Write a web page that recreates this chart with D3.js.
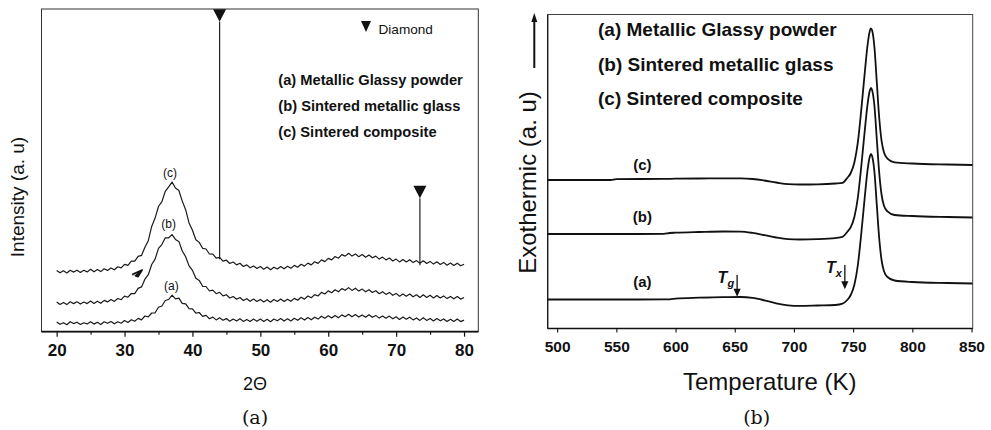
<!DOCTYPE html>
<html><head><meta charset="utf-8">
<script src="https://cdn.jsdelivr.net/npm/d3@7"></script>
<style>
body{margin:0;background:#fff}
svg{display:block}
text{font-family:"Liberation Sans",Arial,Helvetica,sans-serif;fill:#111}
</style>
</head><body>
<svg id="chart" width="991" height="430"></svg>
<script>
// ---------------- Panel (a): XRD ----------------
const xrdStart = 20, xrdStep = 0.5;
const xrdTicks = [20, 30, 40, 50, 60, 70, 80];
const xrdMinorTicks = [25, 35, 45, 55, 65, 75];
const xrdA = [9.6,7.4,9.0,7.0,10.0,8.1,9.4,7.2,8.9,7.8,10.0,7.6,9.4,7.3,9.9,8.4,10.3,7.9,10.0,8.5,
  11.1,9.2,12.0,10.5,13.3,11.8,15.7,14.9,18.7,18.9,24.4,25.7,31.2,32.2,36.5,32.8,33.5,28.4,27.9,23.1,
  22.8,18.5,19.2,15.4,16.3,13.0,14.6,11.8,13.9,11.5,13.1,10.5,12.7,10.7,13.0,10.3,12.3,10.1,12.6,10.4,
  12.6,10.2,12.4,10.0,12.7,10.9,13.1,10.6,12.9,10.7,13.4,11.4,13.9,11.6,14.1,11.9,14.5,12.6,15.5,13.5,
  15.9,13.7,16.3,14.0,16.8,15.0,17.4,14.9,17.2,14.6,16.8,14.5,16.9,14.4,16.3,13.6,15.8,13.5,15.6,12.9,
  14.9,12.3,14.7,12.5,14.5,11.8,13.8,11.3,14.0,11.3,13.3,10.8,13.2,10.9,12.8,10.2,12.4,10.2,12.6,10.1,11.6];
const xrdB = [29.6,27.3,29.3,27.1,29.9,28.1,29.9,27.6,29.7,28.1,30.7,28.2,30.5,28.4,31.3,29.8,32.3,30.3,33.2,32.0,
  35.6,34.5,38.2,38.1,43.3,44.8,52.5,57.0,67.2,72.6,83.3,87.1,93.9,93.9,97.1,92.3,90.3,80.7,75.0,65.8,
  61.4,53.5,51.3,45.4,45.2,40.7,41.6,38.0,39.4,35.8,37.0,33.7,35.2,32.5,34.2,31.2,33.0,30.4,32.6,30.2,
  32.3,29.8,32.0,29.5,32.1,30.2,32.6,30.1,32.5,30.4,33.3,31.5,34.4,32.6,35.7,33.9,37.1,35.7,39.3,37.7,
  40.8,39.0,42.0,39.9,43.1,41.4,44.1,41.3,43.5,40.6,42.6,39.9,42.0,39.2,41.0,38.0,40.0,37.3,39.3,36.4,
  38.3,35.5,37.8,35.5,37.7,34.9,36.9,34.3,36.9,34.3,36.4,33.8,36.2,33.7,35.8,33.1,35.3,32.9,35.2,32.6,34.2];
const xrdC = [61.3,58.9,61.0,58.7,61.4,59.6,61.5,59.2,61.4,59.8,62.4,59.9,62.2,60.1,63.0,61.3,63.8,61.9,64.9,63.8,
  67.4,66.4,70.5,70.6,75.3,76.3,84.5,91.0,105.3,113.6,125.2,130.1,140.4,144.8,149.6,143.7,141.2,130.6,122.0,108.8,
  101.4,92.0,89.3,83.4,82.7,77.7,77.6,73.5,74.4,70.5,71.5,68.2,69.7,66.8,68.4,65.2,66.8,63.9,65.8,63.2,
  65.1,62.5,64.6,62.0,64.5,62.7,65.2,62.9,65.4,63.4,66.3,64.5,67.4,65.6,68.6,66.8,69.9,68.3,71.8,70.1,
  73.3,71.8,75.2,73.5,77.1,75.6,78.4,75.6,77.8,75.0,77.1,74.5,76.7,73.9,75.6,72.6,74.6,71.8,73.7,70.7,
  72.6,69.8,72.2,69.8,72.0,69.1,71.1,68.4,70.9,68.3,70.3,67.6,69.9,67.3,69.3,66.5,68.7,66.2,68.5,65.9,67.5];
const diamondPos = [44, 73.5];
const diamondTop = [310, 133.5];
const xrdLabels = ["(a)", "(b)", "(c)"];
const xrdLabelPos = [[36.9, 41.4], [36.5, 104.1], [36.7, 154.7]];
const legendA = ["(a) Metallic Glassy powder", "(b) Sintered metallic glass", "(c) Sintered composite"];

// ---------------- Panel (b): DSC ----------------
const temps = [492,545,550,590,595,600,620,640,655,665,675,685,695,705,720,735,741,745,748,751,754,757,760,762,764,765,766,768,770,772,774,776,779,785,800,830,851];
const dscA = [29.0,29.0,29.0,29.1,29.2,29.8,30.8,31.4,31.5,30.6,28.2,25.2,23.2,22.6,23.0,23.5,24.8,28.5,33.5,43.5,63.5,96.5,133.5,156.5,171.5,174.5,172.5,156.5,123.5,90.5,68.5,57.5,51.5,48.0,46.5,45.5,45.0];
const dscB = [94.5,94.5,94.5,94.6,95.5,95.8,96.5,97.0,96.9,95.6,93.3,91.0,89.4,89.0,89.3,90.4,91.6,96.5,101.3,111.2,131.0,163.5,200.0,222.5,237.5,240.5,238.5,222.5,189.3,156.2,134.0,123.0,117.1,113.5,112.5,111.5,111.0];
const dscC = [148.5,148.5,149.4,149.6,149.7,149.8,150.0,150.2,150.1,149.5,148.0,146.0,144.3,144.0,144.2,145.0,145.6,150.5,155.5,165.7,186.3,220.1,258.0,281.5,297.1,300.2,298.2,281.1,246.2,211.2,187.8,176.2,169.9,166.1,165.0,164.0,163.5];
const dscTicks = [500, 550, 600, 650, 700, 750, 800, 850];
const dscLabels = ["(a)", "(b)", "(c)"];
const dscLabelPos = [[572, 41.4], [572, 106.4], [572, 158.1]];
const legendB = ["(a) Metallic Glassy powder", "(b) Sintered metallic glass", "(c) Sintered composite"];
const tgT = 652, tgFrom = 53.5, tgTo = 31.8;
const txT = 743, txFrom = 63.5, txTo = 39.2;

const svg = d3.select("#chart");
const ink = "#111";

// ======== Panel (a) ========
const xL = d3.scaleLinear().domain([17.77, 82.1]).range([41.5, 478.3]);
const yL = d3.scaleLinear().domain([0, 322.7]).range([331.7, 9]);
const twoTheta = xrdA.map((_, i) => xrdStart + i * xrdStep);

svg.append("clipPath").attr("id", "clipL").append("rect")
  .attr("x", xL.range()[0]).attr("y", yL.range()[1])
  .attr("width", xL.range()[1] - xL.range()[0]).attr("height", yL.range()[0] - yL.range()[1]);

const gL = svg.append("g");
gL.append("rect").attr("x", xL.range()[0]).attr("y", yL.range()[1])
  .attr("width", xL.range()[1] - xL.range()[0]).attr("height", yL.range()[0] - yL.range()[1])
  .attr("fill", "none").attr("stroke", "#333").attr("stroke-width", 1);
gL.append("line").attr("x1", xL.range()[0]).attr("x2", xL.range()[1])
  .attr("y1", yL.range()[0]).attr("y2", yL.range()[0]).attr("stroke", ink).attr("stroke-width", 1.8);

const lineL = d3.line().x((d, i) => xL(twoTheta[i])).y(d => yL(d));
const curvesL = gL.append("g").attr("clip-path", "url(#clipL)");
[xrdA, xrdB, xrdC].forEach(s => {
  curvesL.append("path").attr("d", lineL(s)).attr("fill", "none")
    .attr("stroke", "#1a1a1a").attr("stroke-width", 1.2).attr("stroke-linejoin", "round");
});

// diamond peaks
diamondPos.forEach((p, i) => {
  const idx = Math.round((p - xrdStart) / xrdStep);
  const x = xL(p), yt = yL(diamondTop[i]);
  curvesL.append("line").attr("x1", x).attr("x2", x).attr("y1", yt)
    .attr("y2", yL(xrdC[idx]) + 2).attr("stroke", "#222").attr("stroke-width", 1.2);
  gL.append("path").attr("d", `M${x - 6.5},${yt - 12.5}L${x + 6.5},${yt - 12.5}L${x},${yt}Z`).attr("fill", ink);
});

// axis
const axL = d3.axisBottom(xL).tickValues(xrdTicks).tickSize(5).tickPadding(7).tickSizeOuter(0);
const gAxL = gL.append("g").attr("transform", `translate(0,${yL.range()[0]})`).call(axL);
gAxL.select(".domain").remove();
gAxL.selectAll("line").attr("stroke", ink).attr("stroke-width", 1.2);
gAxL.selectAll("text").attr("font-size", 17).attr("font-weight", "bold").attr("fill", ink);
const axLm = d3.axisBottom(xL).tickValues(xrdMinorTicks).tickSize(3).tickFormat("");
const gAxLm = gL.append("g").attr("transform", `translate(0,${yL.range()[0]})`).call(axLm);
gAxLm.select(".domain").remove();
gAxLm.selectAll("line").attr("stroke", ink).attr("stroke-width", 1.1);

// curve labels
xrdLabels.forEach((t, i) => {
  gL.append("text").attr("x", xL(xrdLabelPos[i][0])).attr("y", yL(xrdLabelPos[i][1]))
    .attr("text-anchor", "middle").attr("font-size", 12).text(t);
});
// small arrow near (b)
gL.append("path").attr("d", `M${xL(31.1)},${yL(55.7)}L${xL(32.6)},${yL(61.7)}`).attr("stroke", "#bbb").attr("stroke-width", 1.2);
gL.append("path").attr("d", `M${xL(32.6)},${yL(61.7)}L${xL(31.6)},${yL(56.0)}L${xL(32.0)},${yL(55.0)}L${xL(32.6)},${yL(61.7)}L${xL(31.2)},${yL(57.5)}Z`)
  .attr("fill", ink).attr("stroke", ink).attr("stroke-width", 1.5).attr("stroke-linejoin", "round");

// legend (a)
gL.append("path").attr("d", "M361,21L371,21L366,32Z").attr("fill", ink);
gL.append("text").attr("x", 378.5).attr("y", 34).attr("font-size", 13.6).text("Diamond");
legendA.forEach((t, i) => {
  gL.append("text").attr("x", 278.3).attr("y", 85.3 + i * 26).attr("font-size", 14.7)
    .attr("font-weight", "bold").text(t);
});

// titles (a)
svg.append("text").attr("transform", "translate(23.5,197) rotate(-90)").attr("text-anchor", "middle")
  .attr("font-size", 19).text("Intensity (a. u)");
svg.append("text").attr("x", 255).attr("y", 389.5).attr("text-anchor", "middle")
  .attr("font-size", 18).text("2\u0398");
svg.append("text").attr("x", 255).attr("y", 424).attr("text-anchor", "middle")
  .attr("font-size", 19).style("font-family", "'DejaVu Serif','Liberation Serif',serif").text("(a)");

// ======== Panel (b) ========
const xR = d3.scaleLinear().domain([492, 851]).range([547.7, 972.7]);
const yR = d3.scaleLinear().domain([0, 314]).range([328.5, 14.5]);

svg.append("clipPath").attr("id", "clipR").append("rect")
  .attr("x", xR.range()[0]).attr("y", yR.range()[1])
  .attr("width", xR.range()[1] - xR.range()[0]).attr("height", yR.range()[0] - yR.range()[1]);

const gR = svg.append("g");
gR.append("rect").attr("x", xR.range()[0]).attr("y", yR.range()[1])
  .attr("width", xR.range()[1] - xR.range()[0]).attr("height", yR.range()[0] - yR.range()[1])
  .attr("fill", "none").attr("stroke", "#444").attr("stroke-width", 1);
gR.append("line").attr("x1", xR.range()[0]).attr("x2", xR.range()[1])
  .attr("y1", yR.range()[0]).attr("y2", yR.range()[0]).attr("stroke", ink).attr("stroke-width", 1.3);
gR.append("line").attr("x1", xR.range()[0]).attr("x2", xR.range()[0])
  .attr("y1", yR.range()[0]).attr("y2", yR.range()[1]).attr("stroke", ink).attr("stroke-width", 1.2);

const lineR = d3.line().x((d, i) => xR(temps[i])).y(d => yR(d)).curve(d3.curveMonotoneX);
const curvesR = gR.append("g").attr("clip-path", "url(#clipR)");
[dscA, dscB, dscC].forEach(s => {
  curvesR.append("path").attr("d", lineR(s)).attr("fill", "none")
    .attr("stroke", ink).attr("stroke-width", 1.8).attr("stroke-linejoin", "round");
});

const axR = d3.axisBottom(xR).tickValues(dscTicks).tickSize(4).tickPadding(8.5).tickSizeOuter(0);
const gAxR = gR.append("g").attr("transform", `translate(0,${yR.range()[0]})`).call(axR);
gAxR.select(".domain").remove();
gAxR.selectAll("line").attr("stroke", ink).attr("stroke-width", 1.1);
gAxR.selectAll("text").attr("font-size", 15.5).attr("font-weight", "bold").attr("fill", ink);

dscLabels.forEach((t, i) => {
  gR.append("text").attr("x", xR(dscLabelPos[i][0])).attr("y", yR(dscLabelPos[i][1]))
    .attr("text-anchor", "middle").attr("font-size", 15).attr("font-weight", "bold").text(t);
});

// Tg / Tx arrows
function arrow(T, from, to) {
  const x = xR(T), y1 = yR(from), y2 = yR(to);
  gR.append("line").attr("x1", x).attr("x2", x).attr("y1", y1).attr("y2", y2 - 6)
    .attr("stroke", ink).attr("stroke-width", 1.3);
  gR.append("path").attr("d", `M${x - 3.6},${y2 - 8}L${x + 3.6},${y2 - 8}L${x},${y2}Z`).attr("fill", ink);
}
arrow(tgT, tgFrom, tgTo);
arrow(txT, txFrom, txTo);
function tLabel(T, from, sub) {
  const x = xR(T) - 3, y = yR(from) + 8;
  const t = gR.append("text").attr("x", x).attr("y", y).attr("text-anchor", "end")
    .attr("font-size", 16).attr("font-style", "italic").attr("font-weight", "bold");
  t.append("tspan").text("T");
  t.append("tspan").attr("font-size", 11).attr("dy", 4).text(sub);
}
tLabel(tgT, tgFrom, "g");
tLabel(txT, txFrom, "x");

legendB.forEach((t, i) => {
  gR.append("text").attr("x", 598).attr("y", 36.1 + i * 34.6).attr("font-size", 19)
    .attr("font-weight", "bold").text(t);
});

// titles (b)
svg.append("text").attr("transform", "translate(535.5,182.5) rotate(-90)").attr("text-anchor", "middle")
  .attr("font-size", 24).text("Exothermic (a. u)");
svg.append("line").attr("x1", 534.3).attr("x2", 534.3).attr("y1", 68).attr("y2", 20)
  .attr("stroke", ink).attr("stroke-width", 2);
svg.append("path").attr("d", "M531.3,22L537.3,22L534.3,13Z").attr("fill", ink);
svg.append("text").attr("x", 769.7).attr("y", 390).attr("text-anchor", "middle")
  .attr("font-size", 24).text("Temperature (K)");
svg.append("text").attr("x", 756.7).attr("y", 424).attr("text-anchor", "middle")
  .attr("font-size", 19).style("font-family", "'DejaVu Serif','Liberation Serif',serif").text("(b)");
</script>
</body></html>
